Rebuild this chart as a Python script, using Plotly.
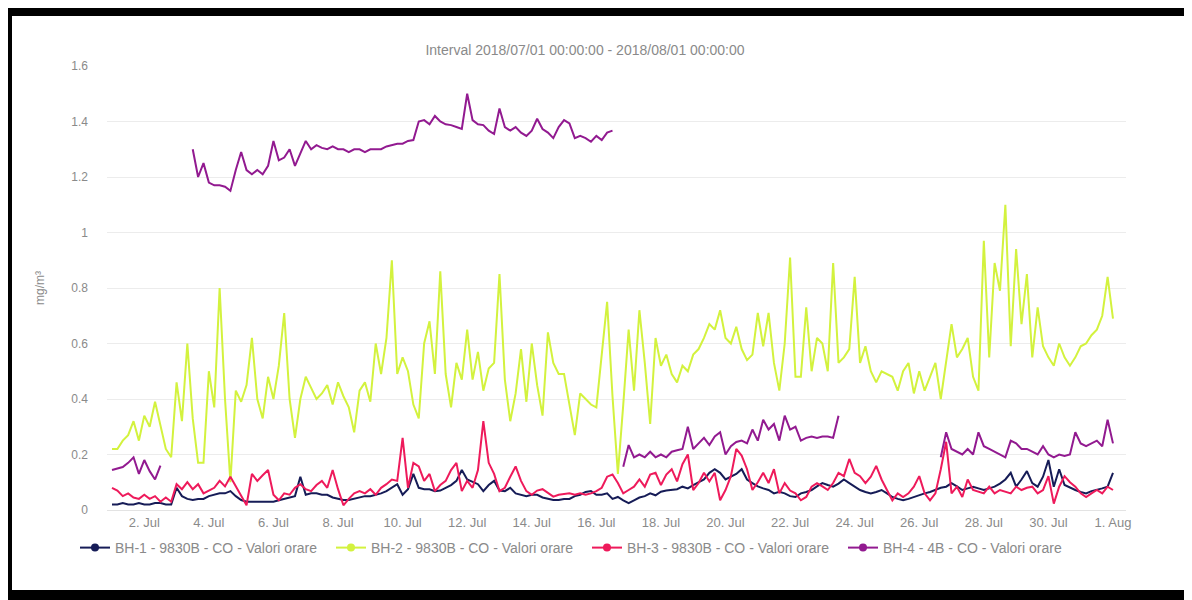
import pandas as pd
import plotly.graph_objects as go

# hourly CO readings sampled every 4 hours, 1 Jul 2018 00:00 -> 1 Aug 2018 00:00
times = pd.date_range("2018-07-01 00:00", periods=187, freq="4h")

series_names = [
    "BH-1 - 9830B - CO - Valori orare",
    "BH-2 - 9830B - CO - Valori orare",
    "BH-3 - 9830B - CO - Valori orare",
    "BH-4 - 4B - CO - Valori orare",
]
series_colors = ["#161c57", "#d3f23e", "#ee1a5b", "#921a90"]

bh1 = [
    0.02, 0.02, 0.025, 0.02, 0.02, 0.025,
    0.02, 0.02, 0.025, 0.025, 0.02, 0.02,
    0.08, 0.05, 0.04, 0.036, 0.04, 0.04,
    0.05, 0.055, 0.06, 0.06, 0.068, 0.05,
    0.036, 0.03, 0.03, 0.03, 0.03, 0.03,
    0.03, 0.035, 0.04, 0.045, 0.05, 0.12,
    0.055, 0.06, 0.06, 0.055, 0.055, 0.045,
    0.04, 0.036, 0.036, 0.04, 0.045, 0.05,
    0.05, 0.055, 0.06, 0.068, 0.08, 0.093,
    0.055, 0.075, 0.13, 0.08, 0.075, 0.075,
    0.068, 0.07, 0.08, 0.09, 0.105, 0.144,
    0.11, 0.1, 0.093, 0.068, 0.09, 0.105,
    0.07, 0.068, 0.08, 0.06, 0.055, 0.05,
    0.055, 0.055, 0.045, 0.04, 0.036, 0.036,
    0.04, 0.04, 0.05, 0.055, 0.065, 0.068,
    0.055, 0.055, 0.06, 0.04, 0.047, 0.035,
    0.025, 0.035, 0.045, 0.05, 0.06, 0.053,
    0.066, 0.07, 0.072, 0.075, 0.084, 0.078,
    0.09, 0.1, 0.11, 0.134, 0.147, 0.134,
    0.11, 0.12, 0.13, 0.147, 0.11, 0.097,
    0.085, 0.078, 0.072, 0.06, 0.066, 0.06,
    0.05, 0.047, 0.06, 0.065, 0.072, 0.085,
    0.097, 0.09, 0.084, 0.095, 0.11, 0.097,
    0.085, 0.072, 0.065, 0.06, 0.065, 0.072,
    0.06, 0.047, 0.04, 0.035, 0.04, 0.047,
    0.055, 0.06, 0.065, 0.072, 0.08, 0.084,
    0.097, 0.085, 0.072, 0.078, 0.084, 0.078,
    0.072, 0.078, 0.084, 0.095, 0.11, 0.134,
    0.084, 0.11, 0.14, 0.097, 0.084, 0.12,
    0.18, 0.084, 0.147, 0.09, 0.08, 0.072,
    0.065, 0.06, 0.068, 0.072, 0.078, 0.084,
    0.134,
]

bh2 = [
    0.22, 0.22, 0.25, 0.27, 0.32, 0.25,
    0.34, 0.30, 0.39, 0.30, 0.22, 0.19,
    0.46, 0.32, 0.60, 0.33, 0.17, 0.17,
    0.50, 0.37, 0.80, 0.40, 0.10, 0.43,
    0.39, 0.45, 0.62, 0.40, 0.33, 0.48,
    0.40, 0.52, 0.71, 0.40, 0.26, 0.40,
    0.48, 0.44, 0.40, 0.42, 0.45, 0.38,
    0.46, 0.41, 0.37, 0.28, 0.43, 0.46,
    0.39, 0.60, 0.49, 0.62, 0.90, 0.49,
    0.55, 0.50, 0.38, 0.33, 0.60, 0.68,
    0.49, 0.86, 0.49, 0.37, 0.53, 0.47,
    0.65, 0.47, 0.57, 0.43, 0.51, 0.53,
    0.85, 0.47, 0.32, 0.42, 0.58, 0.39,
    0.60, 0.45, 0.34, 0.64, 0.53, 0.49,
    0.49, 0.38, 0.27, 0.42, 0.40, 0.38,
    0.37, 0.55, 0.75, 0.41, 0.13, 0.38,
    0.65, 0.43, 0.72, 0.53, 0.31, 0.62,
    0.52, 0.56, 0.49, 0.46, 0.52, 0.50,
    0.56, 0.58, 0.62, 0.67, 0.65, 0.72,
    0.62, 0.60, 0.66, 0.58, 0.54, 0.56,
    0.71, 0.59, 0.71, 0.53, 0.43, 0.60,
    0.91, 0.48, 0.48, 0.73, 0.50, 0.62,
    0.60, 0.50, 0.89, 0.53, 0.55, 0.58,
    0.84, 0.53, 0.59, 0.50, 0.46, 0.50,
    0.49, 0.48, 0.43, 0.50, 0.53, 0.42,
    0.50, 0.43, 0.48, 0.53, 0.40, 0.53,
    0.67, 0.55, 0.58, 0.62, 0.48, 0.43,
    0.97, 0.55, 0.89, 0.79, 1.10, 0.59,
    0.94, 0.67, 0.85, 0.55, 0.73, 0.59,
    0.55, 0.52, 0.60, 0.55, 0.52, 0.55,
    0.59, 0.60, 0.63, 0.65, 0.70, 0.84,
    0.69,
]

bh3 = [
    0.08, 0.07, 0.05, 0.06, 0.045, 0.04,
    0.055, 0.04, 0.05, 0.03, 0.045, 0.03,
    0.093, 0.075, 0.10, 0.075, 0.093, 0.06,
    0.07, 0.08, 0.105, 0.085, 0.12, 0.086,
    0.055, 0.017, 0.13, 0.105, 0.125, 0.144,
    0.055, 0.035, 0.06, 0.055, 0.08, 0.093,
    0.075, 0.068, 0.09, 0.105, 0.08, 0.144,
    0.075, 0.017, 0.04, 0.06, 0.068, 0.06,
    0.075, 0.055, 0.08, 0.093, 0.11, 0.105,
    0.26, 0.08, 0.17, 0.157, 0.105, 0.13,
    0.068, 0.09, 0.105, 0.144, 0.17, 0.068,
    0.105, 0.08, 0.144, 0.32, 0.17, 0.13,
    0.068, 0.08, 0.12, 0.157, 0.105, 0.068,
    0.055, 0.07, 0.075, 0.06, 0.048, 0.055,
    0.058, 0.06, 0.055, 0.06, 0.055, 0.06,
    0.068, 0.08, 0.12, 0.128, 0.097, 0.06,
    0.072, 0.084, 0.11, 0.084, 0.128, 0.134,
    0.09, 0.128, 0.147, 0.103, 0.165, 0.20,
    0.072, 0.097, 0.134, 0.103, 0.134, 0.035,
    0.072, 0.122, 0.22, 0.196, 0.147, 0.072,
    0.10, 0.134, 0.097, 0.147, 0.06, 0.097,
    0.07, 0.06, 0.035, 0.047, 0.084, 0.097,
    0.085, 0.072, 0.097, 0.134, 0.122, 0.184,
    0.134, 0.122, 0.097, 0.12, 0.159, 0.11,
    0.072, 0.035, 0.06, 0.047, 0.06, 0.084,
    0.122, 0.06, 0.035, 0.06, 0.147, 0.246,
    0.06, 0.084, 0.047, 0.11, 0.072, 0.065,
    0.06, 0.084, 0.06, 0.072, 0.065, 0.06,
    0.084, 0.072, 0.08, 0.084, 0.06, 0.072,
    0.122, 0.023, 0.084, 0.122, 0.10, 0.084,
    0.06, 0.047, 0.06, 0.072, 0.06, 0.084,
    0.072,
]

bh4 = [
    0.144, 0.15, 0.155, 0.17, 0.19, 0.13,
    0.18, 0.14, 0.11, 0.16, None, None,
    None, None, None, 1.30, 1.20, 1.25,
    1.18, 1.17, 1.17, 1.165, 1.15, 1.225,
    1.29, 1.225, 1.21, 1.225, 1.21, 1.24,
    1.33, 1.26, 1.27, 1.30, 1.24, 1.285,
    1.33, 1.30, 1.315, 1.305, 1.30, 1.31,
    1.30, 1.30, 1.29, 1.30, 1.30, 1.29,
    1.30, 1.30, 1.30, 1.31, 1.315, 1.32,
    1.32, 1.33, 1.333, 1.40, 1.405, 1.39,
    1.42, 1.40, 1.39, 1.387, 1.38, 1.373,
    1.50, 1.405, 1.39, 1.387, 1.367, 1.355,
    1.447, 1.38, 1.367, 1.38, 1.36, 1.348,
    1.367, 1.41, 1.373, 1.36, 1.34, 1.38,
    1.405, 1.393, 1.34, 1.348, 1.34, 1.327,
    1.348, 1.333, 1.36, 1.367, None, 0.156,
    0.234, 0.19, 0.20, 0.19, 0.21, 0.19,
    0.20, 0.19, 0.21, 0.215, 0.22, 0.30,
    0.22, 0.24, 0.26, 0.234, 0.265, 0.28,
    0.20, 0.23, 0.245, 0.25, 0.24, 0.29,
    0.25, 0.325, 0.29, 0.31, 0.25, 0.34,
    0.29, 0.30, 0.25, 0.26, 0.265, 0.26,
    0.265, 0.265, 0.26, 0.34, None, None,
    None, None, None, None, None, None,
    None, None, None, None, None, None,
    None, None, None, None, 0.19, 0.28,
    0.22, 0.21, 0.20, 0.22, 0.20, 0.28,
    0.23, 0.22, 0.21, 0.20, 0.19, 0.25,
    0.24, 0.22, 0.22, 0.21, 0.20, 0.23,
    0.20, 0.19, 0.20, 0.195, 0.20, 0.28,
    0.24, 0.23, 0.24, 0.25, 0.23, 0.325,
    0.24,
]

GRAY = "#8a8a8a"
FONT = "Liberation Sans, Arial, sans-serif"

fig = go.Figure()
for name, color, values in zip(series_names, series_colors, [bh1, bh2, bh3, bh4]):
    fig.add_trace(go.Scatter(
        x=times, y=values, mode="lines", name=name,
        line=dict(color=color, width=2),
        showlegend=False,
    ))
# legend entries with the line + dot symbol
for name, color in zip(series_names, series_colors):
    fig.add_trace(go.Scatter(
        x=[None], y=[None], mode="lines+markers", name=name,
        line=dict(color=color, width=2),
        marker=dict(color=color, size=8, symbol="circle"),
    ))

# the page body adds an 8px offset, so the figure is 8px smaller
FW, FH = 1184, 592
# plot area in figure pixels
L, R, T, B = 99, 1118, 58, 502
W, H = R - L, B - T


def px(x):
    return (x - L) / W


def py(y):
    return (B - y) / H


frame = [(0, 0, 1184, 8), (0, 582, 1184, 592), (0, 0, 4, 592), (1178, 0, 1184, 592)]
shapes = [
    dict(type="rect", xref="paper", yref="paper",
         x0=px(a), x1=px(c), y0=py(d), y1=py(b),
         fillcolor="black", line=dict(width=0), layer="above")
    for a, b, c, d in frame
]

fig.update_layout(
    width=FW, height=FH,
    margin=dict(l=L, r=FW - R, t=T, b=FH - B),
    paper_bgcolor="white", plot_bgcolor="white",
    font=dict(family=FONT, color=GRAY, size=12),
    title=dict(
        text="Interval 2018/07/01 00:00:00 - 2018/08/01 00:00:00",
        x=577 / FW, xanchor="center", y=1 - 42 / FH, yanchor="middle",
        font=dict(size=14, color=GRAY),
    ),
    showlegend=True,
    legend=dict(
        orientation="h", x=px(67), xanchor="left", y=py(540), yanchor="middle",
        font=dict(size=14, color=GRAY), entrywidth=211, entrywidthmode="pixels",
        bgcolor="rgba(0,0,0,0)",
    ),
    shapes=shapes,
)
fig.update_xaxes(
    type="date",
    range=["2018-06-30 20:17", "2018-08-01 09:40"],
    tick0="2018-07-02", dtick=2 * 86400000, tickformat="%-d. %b",
    showgrid=False, zeroline=False, showline=True, linecolor="#e3e3e3",
    ticks="", tickfont=dict(size=13, color=GRAY),
)
fig.update_yaxes(
    range=[0, 1.6], dtick=0.2,
    showgrid=True, gridcolor="#ececec", zeroline=False, showline=False,
    ticks="", ticklabelstandoff=18, tickfont=dict(size=12, color=GRAY),
    title=dict(text="mg/m³", standoff=24, font=dict(size=12, color=GRAY)),
)

fig.write_html("out.html")
